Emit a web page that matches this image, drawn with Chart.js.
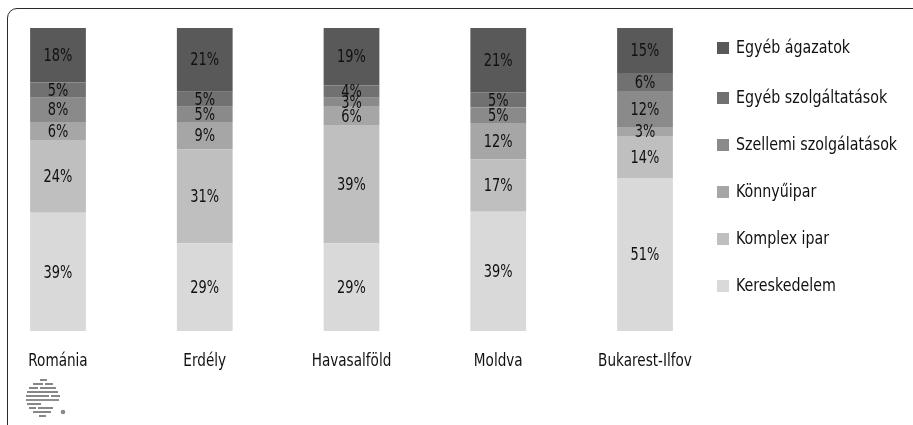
<!DOCTYPE html>
<html>
<head>
<meta charset="utf-8">
<script src="https://cdn.jsdelivr.net/npm/chart.js@4.4.1/dist/chart.umd.min.js"></script>
<style>
  html, body { margin: 0; padding: 0; background: #fff; }
  body { width: 913px; height: 425px; position: relative; overflow: hidden;
         font-family: "DejaVu Sans Condensed", "DejaVu Sans", sans-serif; }
  #frame { position: absolute; left: 7px; top: 8px; width: 1000px; height: 500px;
           border: 1.5px solid #2a2a2a; border-radius: 10px; box-sizing: border-box; }
  #wrap { position: absolute; left: 0; top: 0; width: 913px; height: 425px; }
  #legend { position: absolute; left: 717px; top: 0; margin: 0; padding: 0; list-style: none; }
  #legend li { position: absolute; left: 0; white-space: nowrap; font-size: 18px; color: #111; height: 22px; line-height: 22px; }
  #legend li span.box { position: absolute; left: 0; top: 6px; width: 12px; height: 12px; }
  #legend li span.txt { position: absolute; left: 19px; top: 0; transform: scaleX(0.88); transform-origin: 0 50%; }
  #logo { position: absolute; left: 24px; top: 378px; }
</style>
</head>
<body>
<div id="frame"></div>
<div id="wrap"><canvas id="c" width="913" height="425"></canvas></div>
<ul id="legend"></ul>
<svg id="logo" width="46" height="42" viewBox="0 0 46 42">
  <g stroke="#6a6a6a" stroke-width="1.6">
    <line x1="16" y1="2" x2="23" y2="2"/>
    <line x1="9" y1="6" x2="19" y2="6"/><line x1="21" y1="6" x2="29" y2="6"/>
    <line x1="5" y1="10" x2="14" y2="10"/><line x1="16" y1="10" x2="32" y2="10"/>
    <line x1="3" y1="14" x2="34" y2="14"/>
    <line x1="2" y1="18" x2="25" y2="18"/><line x1="27" y1="18" x2="36" y2="18"/>
    <line x1="2" y1="22" x2="35" y2="22"/>
    <line x1="3" y1="26" x2="17" y2="26"/>
    <line x1="5" y1="30" x2="12" y2="30"/><line x1="14" y1="30" x2="29" y2="30"/>
    <line x1="9" y1="34" x2="27" y2="34"/>
    <line x1="15" y1="38" x2="22" y2="38"/>
  </g>
  <circle cx="39" cy="34" r="2.3" fill="#8a8a8a"/>
</svg>
<script>
const categories = ["Románia", "Erdély", "Havasalföld", "Moldva", "Bukarest-Ilfov"];
const seriesNames = ["Kereskedelem", "Komplex ipar", "Könnyűipar", "Szellemi szolgálatások", "Egyéb szolgáltatások", "Egyéb ágazatok"];
const kereskedelem = [39, 29, 29, 39, 51];
const komplexIpar = [24, 31, 39, 17, 14];
const konnyuipar = [6, 9, 6, 12, 3];
const szellemi = [8, 5, 3, 5, 12];
const egyebSzolg = [5, 5, 4, 5, 6];
const egyebAgazat = [18, 21, 19, 21, 15];
const seriesColors = ["#d9d9d9", "#bfbfbf", "#a6a6a6", "#8a8a8a", "#717171", "#595959"];

const seriesValues = [kereskedelem, komplexIpar, konnyuipar, szellemi, egyebSzolg, egyebAgazat];
// bars are drawn as 100% stacks of the (rounded) shares
const totals = categories.map((_, i) => seriesValues.reduce((s, arr) => s + arr[i], 0));

const datasets = seriesNames.map((name, k) => ({
  label: name,
  raw: seriesValues[k],
  data: seriesValues[k].map((v, i) => v / totals[i] * 100),
  backgroundColor: seriesColors[k],
  borderWidth: 0,
  barPercentage: 1,
  categoryPercentage: 0.38,
  clip: false
}));

const FONT = '"DejaVu Sans Condensed", "DejaVu Sans", sans-serif';
function narrowText(ctx, text, x, y, sq) {
  ctx.save();
  ctx.translate(x, y);
  ctx.scale(sq, 1);
  ctx.fillText(text, 0, 0);
  ctx.restore();
}

const labelPlugin = {
  id: 'segLabels',
  afterDatasetsDraw(chart) {
    const ctx = chart.ctx;
    ctx.save();
    ctx.fillStyle = '#111';
    ctx.textAlign = 'center';
    ctx.textBaseline = 'middle';
    ctx.font = '18px ' + FONT;
    chart.data.datasets.forEach((ds, k) => {
      const meta = chart.getDatasetMeta(k);
      meta.data.forEach((bar, i) => {
        const y = (bar.y + bar.base) / 2;
        narrowText(ctx, ds.raw[i] + '%', bar.x, y + 1, 0.8);
      });
    });
    // category labels
    ctx.font = '18px ' + FONT;
    ctx.textBaseline = 'alphabetic';
    const xs = chart.scales.x;
    chart.data.labels.forEach((lab, i) => {
      narrowText(ctx, lab, xs.getPixelForValue(i), 366, 0.84);
    });
    ctx.restore();
  }
};

new Chart(document.getElementById('c'), {
  type: 'bar',
  data: { labels: categories, datasets },
  options: {
    responsive: false,
    animation: false,
    layout: { padding: { left: 58, right: 268, top: 28, bottom: 94 } },
    plugins: { legend: { display: false }, tooltip: { enabled: false } },
    scales: {
      x: { stacked: true, offset: false, display: false },
      y: { stacked: true, display: false, min: 0, max: 100 }
    }
  },
  plugins: [labelPlugin]
});

// legend (reversed order, top = last series)
const legendYs = [47, 97, 144, 191, 238, 285];
const ul = document.getElementById('legend');
seriesNames.slice().reverse().forEach((name, j) => {
  const k = seriesNames.length - 1 - j;
  const li = document.createElement('li');
  li.style.top = (legendYs[j] - 11) + 'px';
  li.innerHTML = '<span class="box" style="background:' + seriesColors[k] + '"></span><span class="txt">' + name + '</span>';
  ul.appendChild(li);
});
</script>
</body>
</html>
